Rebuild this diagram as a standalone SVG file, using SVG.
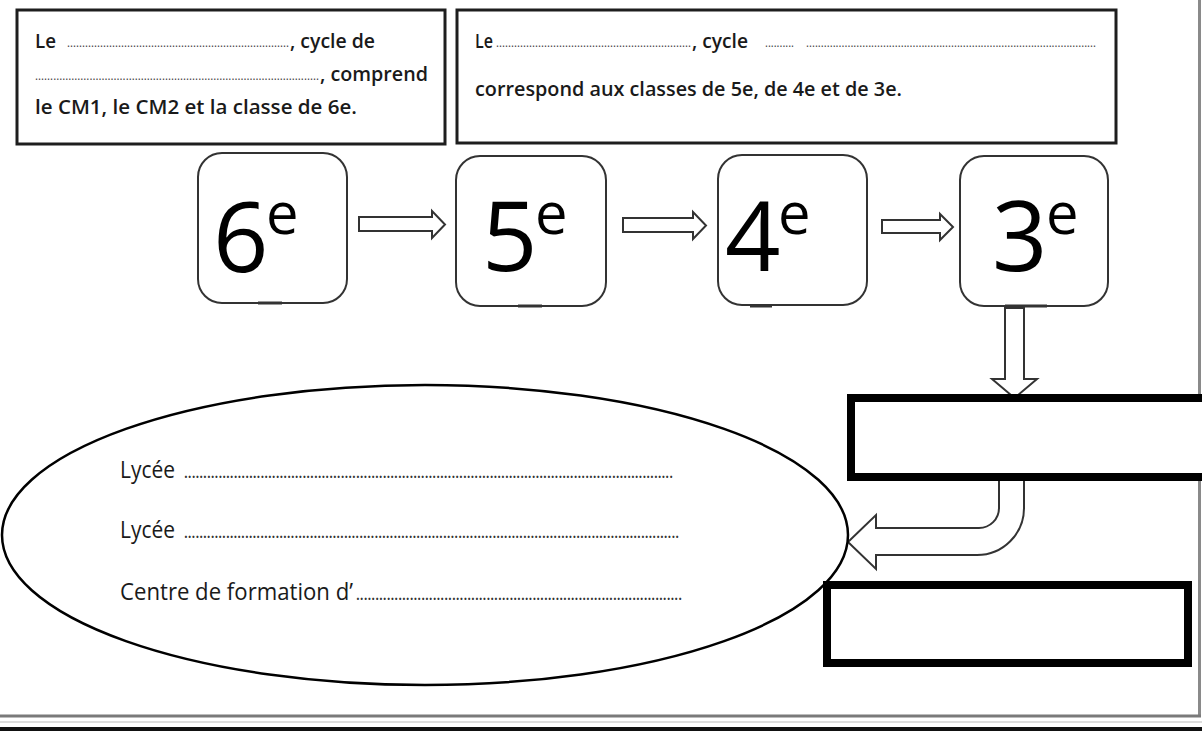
<svg xmlns="http://www.w3.org/2000/svg" width="1202" height="731" viewBox="0 0 1202 731">
<style>
.t{font-family:"Open Sans","Noto Sans","Liberation Sans",sans-serif;fill:#1a1a1a}
.bx{font-size:20px;font-weight:600}
.ld{font-size:12px;font-weight:400;fill:#444}
.el{font-size:23px;font-weight:400}
.eld{font-size:16px;font-weight:600;fill:#333}
.num{font-family:"Open Sans","Noto Sans",sans-serif;font-size:97px;fill:#000}
.sup{font-size:58px}
.tbox{fill:#fff;stroke:#1e1e1e;stroke-width:3}
.rbox{fill:#fff;stroke:#333;stroke-width:2}
.bbox{fill:#fff;stroke:#000;stroke-width:8}
.arr{fill:#fff;stroke:#333;stroke-width:2;stroke-linejoin:miter}
.tab{stroke:#333;stroke-width:3}
</style>
<rect width="1202" height="731" fill="#fff"/>
<g id="frame">
<line x1="1199.5" y1="0" x2="1199.5" y2="716" stroke="#8a8a8a" stroke-width="3"/>
<line x1="0" y1="716" x2="1201" y2="716" stroke="#7a7a7a" stroke-width="3"/>
<line x1="0" y1="722" x2="1202" y2="722" stroke="#ddd" stroke-width="2"/>
<rect x="0" y="727" width="1202" height="4" fill="#111"/>
</g>
<g id="box-cycle3">
<rect class="tbox" x="17" y="10" width="428" height="134"/>
<text class="t bx" x="35" y="48" textLength="21" lengthAdjust="spacingAndGlyphs">Le</text>
<text class="t ld" x="67" y="47" textLength="222" lengthAdjust="spacingAndGlyphs">..........................................................................</text>
<text class="t bx" x="290" y="48" textLength="85" lengthAdjust="spacingAndGlyphs">, cycle de</text>
<text class="t ld" x="35" y="80" textLength="284" lengthAdjust="spacingAndGlyphs">..............................................................................................</text>
<text class="t bx" x="320" y="81" textLength="108" lengthAdjust="spacingAndGlyphs">,  comprend</text>
<text class="t bx" x="35" y="114" textLength="322" lengthAdjust="spacingAndGlyphs">le CM1,  le CM2 et la classe de 6e.</text>
</g>
<g id="box-cycle4">
<rect class="tbox" x="457" y="10" width="659" height="133"/>
<text class="t bx" x="475" y="48" textLength="18" lengthAdjust="spacingAndGlyphs">Le</text>
<text class="t ld" x="496" y="47" textLength="195" lengthAdjust="spacingAndGlyphs">.................................................................</text>
<text class="t bx" x="692" y="48" textLength="56" lengthAdjust="spacingAndGlyphs">, cycle</text>
<text class="t ld" x="765" y="47" textLength="29" lengthAdjust="spacingAndGlyphs">..........</text>
<text class="t ld" x="806" y="47" textLength="290" lengthAdjust="spacingAndGlyphs">..................................................................................................</text>
<text class="t bx" x="475" y="96" textLength="427" lengthAdjust="spacingAndGlyphs">correspond aux classes de 5e, de 4e et de 3e.</text>
</g>
<g id="connectors">
<path class="arr" d="M359,217 H432 V211 L445,224.5 L432,238 V231 H359 Z"/>
<path class="arr" d="M623,218 H693 V212 L706,225.5 L693,239 V232 H623 Z"/>
<path class="arr" d="M882,220 H940 V214 L953,227 L940,240 V233 H882 Z"/>
<path class="arr" d="M1005,308 V379 H992 L1014.5,398 L1037,379 H1024 V308 Z"/>
<path class="arr" d="M999,478 V508 A20,20 0 0 1 979,528 H876 V515 L848,542 L876,569 V555 H977 A47,47 0 0 0 1024,508 V478"/>
</g>
<g id="node-6e">
<rect class="rbox" x="198" y="153" width="149" height="150" rx="24"/>
<line class="tab" x1="258" y1="303" x2="282" y2="303"/>
<text class="num" x="213" y="272">6<tspan class="sup" x="266" y="234">e</tspan></text>
</g>
<g id="node-5e">
<rect class="rbox" x="456" y="156" width="150" height="150" rx="24"/>
<line class="tab" x1="518" y1="306" x2="542" y2="306"/>
<text class="num" x="482" y="271">5<tspan class="sup" x="535" y="234">e</tspan></text>
</g>
<g id="node-4e">
<rect class="rbox" x="718" y="155" width="149" height="150" rx="24"/>
<line class="tab" x1="750" y1="306" x2="772" y2="306" stroke-width="4"/>
<text class="num" x="725" y="271">4<tspan class="sup" x="778" y="234">e</tspan></text>
</g>
<g id="node-3e">
<rect class="rbox" x="960" y="156" width="148" height="150" rx="24"/>
<line class="tab" x1="1005" y1="306" x2="1047" y2="306"/>
<text class="num" x="992" y="271">3<tspan class="sup" x="1046" y="234">e</tspan></text>
</g>
<g id="node-ellipse">
<ellipse cx="425" cy="535" rx="423" ry="150" fill="#fff" stroke="#000" stroke-width="2.5"/>
<text class="t el" x="120" y="478" textLength="55" lengthAdjust="spacingAndGlyphs">Lycée</text>
<text class="t eld" x="184" y="478" textLength="489" lengthAdjust="spacingAndGlyphs">................................................................................................................................</text>
<text class="t el" x="120" y="538" textLength="55" lengthAdjust="spacingAndGlyphs">Lycée</text>
<text class="t eld" x="184" y="538" textLength="495" lengthAdjust="spacingAndGlyphs">..................................................................................................................................</text>
<text class="t el" x="120" y="600" textLength="233" lengthAdjust="spacingAndGlyphs">Centre de formation d’</text>
<text class="t eld" x="356" y="600" textLength="326" lengthAdjust="spacingAndGlyphs">.....................................................................................</text>
</g>
<g id="node-box-a">
<rect class="bbox" x="851" y="398" width="400" height="79"/>
</g>
<g id="node-box-b">
<rect class="bbox" x="827" y="585" width="361" height="78"/>
</g>
</svg>
